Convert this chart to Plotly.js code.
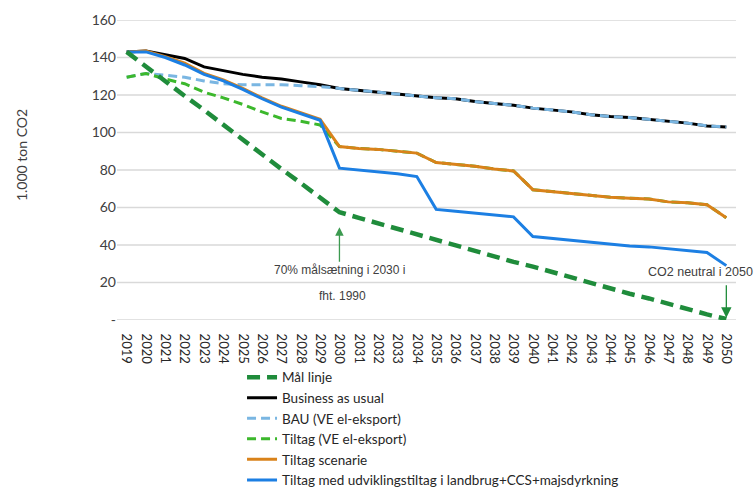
<!DOCTYPE html>
<html>
<head>
<meta charset="utf-8">
<script src="https://cdn.plot.ly/plotly-3.0.1.min.js"></script>
<style>html,body{margin:0;padding:0;background:#fff;}#chart{width:756px;height:489px;}</style>
</head>
<body>
<div id="chart"></div>
<script>
const years = ['2019','2020','2021','2022','2023','2024','2025','2026','2027','2028','2029','2030','2031','2032','2033','2034','2035','2036','2037','2038','2039','2040','2041','2042','2043','2044','2045','2046','2047','2048','2049','2050'];

const malLinje = [143,135,127.5,119.5,112,104,96,88.5,80.5,73,65,57.5,54.5,51.5,48.5,45.5,42.5,40,37,34,31,28.5,25.5,22.5,20,17,14,11.5,8.5,5.5,3,0.5];
const businessAsUsual = [143,143.5,141.5,139.5,135,133,131,129.5,128.5,127,125.5,123.5,122.5,121.5,120.5,119.5,118.5,118,116.5,115.5,114.5,113,112,111,109.5,108.5,108,107,106,105,103.5,103];
const bauVE = [129.5,131.5,130.5,129.5,127.5,126,125.5,125.5,125.5,125,124.5,123.5,122.5,121.5,120.5,119.5,118.5,118,116.5,115.5,114.5,113,112,111,109.5,108.5,108,107,106,105,103.5,103];
const tiltagVE = [129.5,131.5,128.5,126,121.5,118.5,115,111,107.5,106,104,92.5,91.5,91,90,89,84,83,82,80.5,79.5,69.5,68.5,67.5,66.5,65.5,65,64.5,63,62.5,61.5,54.5];
const tiltagScenarie = [143,143.5,140.5,137,131.5,128,123.5,118.5,114,110.5,107,92.5,91.5,91,90,89,84,83,82,80.5,79.5,69.5,68.5,67.5,66.5,65.5,65,64.5,63,62.5,61.5,54.5];
const tiltagUdvikling = [143,143,140,136,131,127.5,123,118,113.5,110,106.5,81,80,79,78,76.5,59,58,57,56,55,44.5,43.5,42.5,41.5,40.5,39.5,39,38,37,36,29];

const yTickVals = [0,20,40,60,80,100,120,140,160];
const yTickText = ['-','20','40','60','80','100','120','140','160'];

const traces = [
  {name:'Business as usual', y: businessAsUsual, line:{color:'#000000', width:3}, legendrank:2},
  {name:'BAU (VE el-eksport)', y: bauVE, line:{color:'#7ab6e2', width:3, dash:'9px,5px'}, legendrank:3},
  {name:'Tiltag (VE el-eksport)', y: tiltagVE, line:{color:'#3cb82c', width:3, dash:'9px,5px'}, legendrank:4},
  {name:'Tiltag scenarie', y: tiltagScenarie, line:{color:'#d9821a', width:3}, legendrank:5},
  {name:'Tiltag med udviklingstiltag i landbrug+CCS+majsdyrkning', y: tiltagUdvikling, line:{color:'#1c7fe3', width:3}, legendrank:6},
  {name:'Mål linje', y: malLinje, line:{color:'#1f8c3b', width:4.5, dash:'13px,7px'}, legendrank:1}
].map(t => Object.assign({type:'scatter', mode:'lines', x: years, hoverinfo:'skip'}, t));

const gridShapes = yTickVals.map(v => ({type:'line', xref:'paper', yref:'y', x0:0, x1:1, y0:v, y1:v,
  line:{color:'#d9d9d9', width:1.5}, layer:'below'}));

const layout = {
  width:756, height:489,
  margin:{l:117, r:20, t:20, b:169},
  paper_bgcolor:'#ffffff', plot_bgcolor:'rgba(0,0,0,0)',
  font:{family:'Lato, "Open Sans", sans-serif', color:'#404040', size:13},
  showlegend:true,
  legend:{x:0.202, xanchor:'left', yref:'container', y:0.26, yanchor:'top', orientation:'v',
          font:{family:'Lato, sans-serif', size:13.5, color:'#262626'}, bgcolor:'rgba(0,0,0,0)', tracegroupgap:0},
  xaxis:{type:'category', range:[-0.5,31.5], showgrid:false, zeroline:false, showline:false,
         ticks:'outside', ticklen:10, tickcolor:'rgba(0,0,0,0)',
         tickangle:90, tickfont:{family:'Lato, sans-serif', size:13, color:'#262626'}, fixedrange:true},
  yaxis:{range:[0,160], tickvals:yTickVals, ticktext:yTickText, showgrid:false,
         zeroline:false, showline:false, ticks:'', tickfont:{family:'Lato, sans-serif', size:14, color:'#404040'},
         fixedrange:true},
  shapes: gridShapes,
  annotations:[
    {xref:'paper', yref:'paper', x:-0.155, y:0.55, text:'1.000 ton CO2', textangle:-90, showarrow:false,
     font:{family:'Lato, sans-serif', size:14, color:'#404040'}, xanchor:'center', yanchor:'middle'},
    {x:11, y:49.5, xref:'x', yref:'y', text:'', showarrow:true, arrowhead:2, arrowsize:1.3, arrowwidth:1.3,
     arrowcolor:'#3c9a50', ax:0, ay:36},
    {x:11, y:26.5, xref:'x', yref:'y', text:'70% målsætning i 2030 i', showarrow:false,
     font:{family:'"Liberation Sans", Arial, sans-serif', size:12, color:'#404040'}, xanchor:'center', yanchor:'middle'},
    {x:11, y:12.8, xref:'x', yref:'y', text:'fht. 1990', showarrow:false, xshift:3,
     font:{family:'"Liberation Sans", Arial, sans-serif', size:12, color:'#404040'}, xanchor:'center', yanchor:'middle'},
    {x:31, y:1.2, xref:'x', yref:'y', text:'', showarrow:true, arrowhead:2, arrowsize:1.6, arrowwidth:1.3,
     arrowcolor:'#1f8c3b', ax:0, ay:-34},
    {x:31, y:25.5, xref:'x', yref:'y', text:'CO2 neutral i 2050', showarrow:false, xshift:-26,
     font:{family:'"Liberation Sans", Arial, sans-serif', size:12.5, color:'#404040'}, xanchor:'center', yanchor:'middle'}
  ]
};

Plotly.newPlot('chart', traces, layout, {displayModeBar:false});
</script>
</body>
</html>
